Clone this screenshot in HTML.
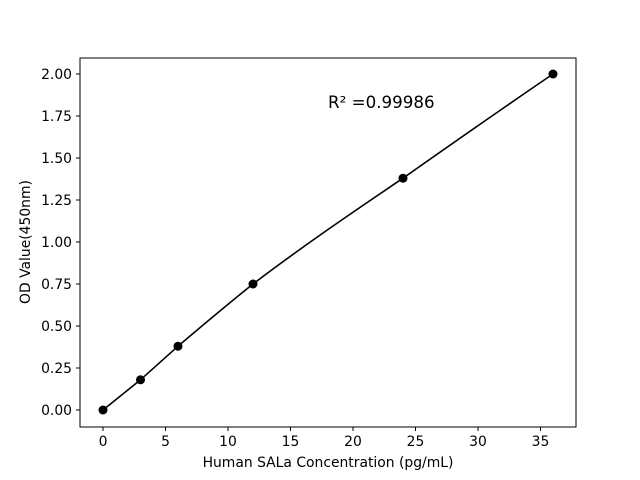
<!DOCTYPE html>
<html><head><meta charset="utf-8"><style>body{margin:0;background:#fff}svg{display:block}text{font-family:"DejaVu Sans","Liberation Sans",sans-serif;fill:#000}</style></head>
<body>
<svg width="640" height="480" viewBox="0 0 640 480" xmlns="http://www.w3.org/2000/svg">
<rect width="640" height="480" fill="#fff"/>
<rect x="80" y="58" width="496" height="369" fill="none" stroke="#000" stroke-width="1"/>
<g stroke="#000" stroke-width="1">
<line x1="103" y1="427" x2="103" y2="431"/><line x1="165.5" y1="427" x2="165.5" y2="431"/><line x1="228" y1="427" x2="228" y2="431"/><line x1="290.5" y1="427" x2="290.5" y2="431"/><line x1="353" y1="427" x2="353" y2="431"/><line x1="415.5" y1="427" x2="415.5" y2="431"/><line x1="478" y1="427" x2="478" y2="431"/><line x1="540.5" y1="427" x2="540.5" y2="431"/>
<line x1="76" y1="410" x2="80" y2="410"/><line x1="76" y1="368" x2="80" y2="368"/><line x1="76" y1="326" x2="80" y2="326"/><line x1="76" y1="284" x2="80" y2="284"/><line x1="76" y1="242" x2="80" y2="242"/><line x1="76" y1="200" x2="80" y2="200"/><line x1="76" y1="158" x2="80" y2="158"/><line x1="76" y1="116" x2="80" y2="116"/><line x1="76" y1="74" x2="80" y2="74"/>
</g>
<g font-size="13.9" text-anchor="middle">
<text x="103" y="446">0</text><text x="165.5" y="446">5</text><text x="228" y="446">10</text><text x="290.5" y="446">15</text><text x="353" y="446">20</text><text x="415.5" y="446">25</text><text x="478" y="446">30</text><text x="540.5" y="446">35</text>
</g>
<g font-size="13.9" text-anchor="end">
<text x="72" y="415">0.00</text><text x="72" y="373">0.25</text><text x="72" y="331">0.50</text><text x="72" y="289">0.75</text><text x="72" y="247">1.00</text><text x="72" y="205">1.25</text><text x="72" y="163">1.50</text><text x="72" y="121">1.75</text><text x="72" y="79">2.00</text>
</g>
<text x="328" y="467" font-size="13.9" text-anchor="middle">Human SALa Concentration (pg/mL)</text>
<text transform="translate(30,242) rotate(-90)" font-size="13.9" text-anchor="middle">OD Value(450nm)</text>
<text x="328" y="108" font-size="16.7">R² =0.99986</text>
<path d="M103,410 L140.5,379.8 L178,346.2 C203,325 228,304 253,284 C303,246 353,212 403,178.2 C453,143 503,108 553,74" fill="none" stroke="#000" stroke-width="1.6"/>
<g fill="#000">
<circle cx="103" cy="410" r="4.5"/><circle cx="140.5" cy="379.8" r="4.5"/><circle cx="178" cy="346.2" r="4.5"/><circle cx="253" cy="284" r="4.5"/><circle cx="403" cy="178.2" r="4.5"/><circle cx="553" cy="74" r="4.5"/>
</g>
</svg>
</body></html>
